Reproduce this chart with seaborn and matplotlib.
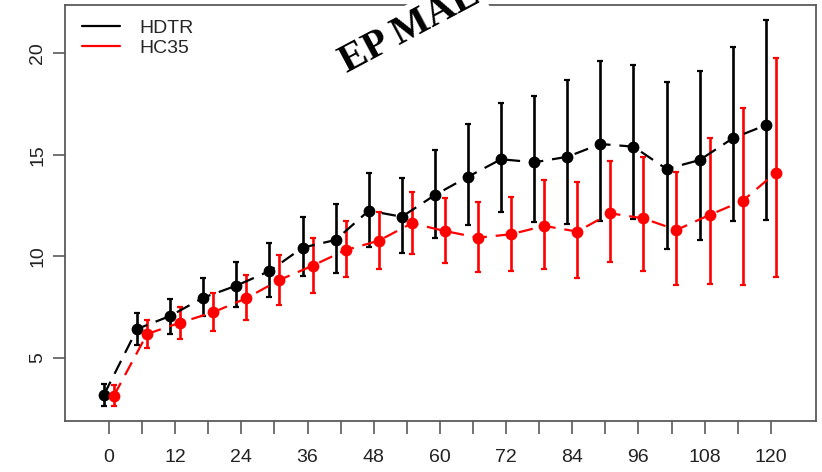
import numpy as np
import pandas as pd
import seaborn as sns
import matplotlib
matplotlib.use("Agg")
import matplotlib.pyplot as plt
from matplotlib.lines import Line2D

# ---- data ----
lead = [0, 6, 12, 18, 24, 30, 36, 42, 48, 54, 60, 66, 72, 78, 84, 90, 96, 102, 108, 114, 120]
hdtr_mae = [3.20, 6.43, 7.07, 7.97, 8.56, 9.28, 10.43, 10.81, 12.25, 11.95, 13.02, 13.92, 14.78,
            14.63, 14.90, 15.53, 15.40, 14.30, 14.74, 15.81, 16.46]
hdtr_hi = [3.74, 7.20, 7.90, 8.92, 9.71, 10.64, 11.92, 12.58, 14.12, 13.84, 15.23, 16.50, 17.56,
           17.89, 18.68, 19.61, 19.41, 18.59, 19.13, 20.28, 21.63]
hdtr_lo = [2.66, 5.64, 6.20, 7.07, 7.50, 8.02, 9.05, 9.17, 10.48, 10.15, 10.89, 11.54, 12.17,
           11.70, 11.58, 11.74, 11.82, 10.35, 10.81, 11.74, 11.79]
hc35_mae = [3.15, 6.18, 6.74, 7.25, 7.94, 8.84, 9.54, 10.31, 10.77, 11.63, 11.25, 10.92, 11.09,
            11.50, 11.22, 12.12, 11.87, 11.30, 12.04, 12.73, 14.12]
hc35_hi = [3.67, 6.87, 7.53, 8.21, 9.08, 10.07, 10.89, 11.76, 12.20, 13.15, 12.86, 12.66, 12.94,
           13.76, 13.64, 14.69, 14.90, 14.14, 15.81, 17.31, 19.74]
hc35_lo = [2.66, 5.51, 5.92, 6.33, 6.87, 7.61, 8.21, 9.00, 9.37, 10.12, 9.69, 9.22, 9.30,
           9.38, 8.92, 9.71, 9.28, 8.59, 8.64, 8.59, 8.97]
series_names = ["HDTR", "HC35"]
x_ticks = [0, 6, 12, 18, 24, 30, 36, 42, 48, 54, 60, 66, 72, 78, 84, 90, 96, 102, 108, 114, 120]
x_ticklabels = ["0", "", "12", "", "24", "", "36", "", "48", "", "60", "", "72", "",
                "84", "", "96", "", "108", "", "120"]
y_ticks = [5, 10, 15, 20]
title = "EP MAE"

# ---- style ----
sns.set_theme(style="white")
plt.rcParams["font.family"] = ["Liberation Sans", "DejaVu Sans"]

colors = {"HDTR": "black", "HC35": "#ff0000"}
offsets = {"HDTR": -0.9, "HC35": 0.9}

frames = []
for name, m, lo, hi in [("HDTR", hdtr_mae, hdtr_lo, hdtr_hi), ("HC35", hc35_mae, hc35_lo, hc35_hi)]:
    frames.append(pd.DataFrame({"lead": np.array(lead) + offsets[name], "mae": m,
                                "lo": lo, "hi": hi, "model": name}))
df = pd.concat(frames, ignore_index=True)

fig = plt.figure(figsize=(8.22, 4.72), dpi=100)
ax = fig.add_axes([65 / 822, 1 - 421 / 472, (816 - 65) / 822, (421 - 5) / 472])

sns.lineplot(data=df, x="lead", y="mae", hue="model", hue_order=series_names,
             palette=colors, marker="o", markersize=8.5, markeredgewidth=0,
             linewidth=1.6, legend=False, ax=ax, sort=False, zorder=3)
for line in ax.get_lines():
    line.set_dashes((6.5, 4))

for name in series_names:
    sub = df[df["model"] == name]
    ax.errorbar(sub["lead"], sub["mae"], yerr=[sub["mae"] - sub["lo"], sub["hi"] - sub["mae"]],
                fmt="none", ecolor=colors[name], elinewidth=1.9, capsize=2.2, capthick=1.6,
                zorder=2)

# legend (lines only)
handles = [Line2D([], [], color=colors[n], lw=1.6) for n in series_names]
leg = ax.legend(handles, series_names, loc="upper left", bbox_to_anchor=(0.022, 0.965),
                frameon=False, fontsize=14, handlelength=2.0, handletextpad=1.0,
                labelspacing=0.12, borderpad=0, borderaxespad=0)

ax.set_xlim(-7.98, 128.2)
ax.set_ylim(1.90, 22.37)
ax.set_xticks(x_ticks)
ax.set_xticklabels(x_ticklabels)
ax.set_yticks(y_ticks)
ax.set_xlabel("")
ax.set_ylabel("")
spine_col = "#5a5a5a"
for s in ax.spines.values():
    s.set_visible(True)
    s.set_color(spine_col)
    s.set_linewidth(1.3)
ax.tick_params(axis="both", which="major", direction="out", color=spine_col, width=1.2,
               labelsize=14, labelcolor="#222222", bottom=True, left=True)
ax.tick_params(axis="x", length=9, pad=11)
ax.tick_params(axis="y", length=9, pad=4.5, labelrotation=90)
for lab in ax.get_yticklabels():
    lab.set_va("center")

fig.text(0.499, 0.940, title, rotation=28, ha="center", va="center", rotation_mode="anchor",
         fontsize=29, fontweight="bold", family=["Liberation Serif", "DejaVu Serif"],
         color="black", zorder=10,
         bbox=dict(facecolor="white", edgecolor="none", pad=3))

fig.savefig("out.png", dpi=100)
